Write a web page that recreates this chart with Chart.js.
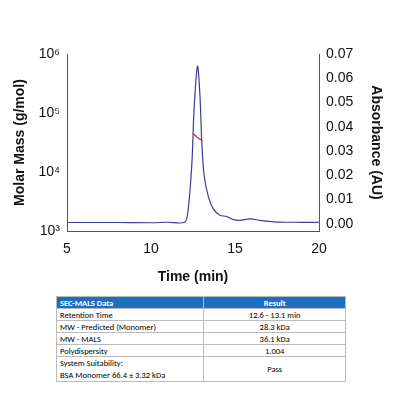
<!DOCTYPE html>
<html><head><meta charset="utf-8">
<script src="https://cdn.jsdelivr.net/npm/chart.js@4"></script>
<style>
body{margin:0;background:#fff;font-family:"Liberation Sans",Arial,sans-serif}
#wrap{position:absolute;left:0;top:0;width:400px;height:290px}
table{position:absolute;left:56px;top:296px;width:290px;border-collapse:collapse;font-family:Carlito,"Open Sans",sans-serif;font-size:8.5px}
td,th{border:1px solid #bbb;padding:0 3px;height:11px;line-height:10px}
th{background:#1f6fc0;color:#fff;text-align:left;font-weight:bold}
td:nth-child(2),th:nth-child(2){text-align:center;width:49%}
</style></head><body>
<div id="wrap"><canvas id="c"></canvas></div>
<table>
<tr><th>SEC-MALS Data</th><th>Result</th></tr>
<tr><td>Retention Time</td><td>12.6 - 13.1 min</td></tr>
<tr><td>MW - Predicted (Monomer)</td><td>28.3 kDa</td></tr>
<tr><td>MW - MALS</td><td>36.1 kDa</td></tr>
<tr><td>Polydispersity</td><td>1.004</td></tr>
<tr><td style="height:22px;line-height:12px">System Suitability:<br>BSA Monomer 66.4 ± 3.32 kDa</td><td>Pass</td></tr>
</table>
<script>
// absorbance trace (min, AU)
const absTime = [5, 8, 10, 11, 12, 12.2, 12.43, 12.57, 12.77, 12.92, 13.02, 13.16, 13.42, 13.72, 14.1, 14.5, 14.9, 15.3, 15.9, 16.5, 17.3, 18.5, 20];
const absVal  = [0.0005, 0.0005, 0.0004, 0.0006, 0.0006, 0.005, 0.0245, 0.048, 0.065, 0.052, 0.034, 0.020, 0.011, 0.006, 0.0035, 0.003, 0.0017, 0.0014, 0.002, 0.0014, 0.0008, 0.0006, 0.0006];
// molar mass across the peak (g/mol)
const massTime = [12.55, 12.7, 12.85, 13.05];
const massVal  = [44000, 40000, 37000, 34000];
const sup = {3:'10³',4:'10⁴',5:'10⁵',6:'10⁶'};

const pts = (xs, ys) => xs.map((x, i) => ({x: x, y: ys[i]}));
const tickFont = {family: 'Liberation Sans', size: 14};
const titleFont = {family: 'Liberation Sans', size: 14, weight: 'bold'};

new Chart(document.getElementById('c'), {
  type: 'scatter',
  data: {
    datasets: [
      {data: pts(absTime, absVal), yAxisID: 'yR', showLine: true, borderColor: '#3b3b98', borderWidth: 1.2, pointRadius: 0, tension: 0.3},
      {data: pts(massTime, massVal), yAxisID: 'yL', showLine: true, borderColor: '#9b3b30', borderWidth: 1.2, pointRadius: 0}
    ]
  },
  options: {
    responsive: true, maintainAspectRatio: false, animation: false,
    layout: {padding: {top: 54, left: 10, right: 14}},
    plugins: {legend: {display: false}, tooltip: {enabled: false}},
    scales: {
      x: {
        type: 'linear', min: 5, max: 20,
        grid: {display: false, drawTicks: true, tickLength: 4},
        border: {color: '#555'},
        ticks: {stepSize: 5, font: tickFont, color: '#111', padding: 6},
        title: {display: true, text: 'Time (min)', font: titleFont, color: '#111', padding: {top: 2}},
        afterFit: s => { s.height = 59; }
      },
      yL: {
        type: 'logarithmic', position: 'left', min: 1000, max: 1000000,
        grid: {display: false, tickLength: 4},
        border: {color: '#555'},
        afterBuildTicks: s => { s.ticks = [1e3, 1e4, 1e5, 1e6].map(v => ({value: v})); },
        ticks: {font: tickFont, color: '#111', callback: v => sup[Math.round(Math.log10(v))]},
        title: {display: true, text: 'Molar Mass (g/mol)', font: titleFont, color: '#111', padding: 2},
        afterFit: s => { s.width = 57; }
      },
      yR: {
        type: 'linear', position: 'right', min: -0.003, max: 0.07,
        grid: {display: false, tickLength: 4},
        border: {color: '#555'},
        afterBuildTicks: s => { s.ticks = [0,0.01,0.02,0.03,0.04,0.05,0.06,0.07].map(v => ({value: v})); },
        ticks: {font: tickFont, color: '#111', callback: v => v.toFixed(2)},
        title: {display: true, text: 'Absorbance (AU)', font: titleFont, color: '#111', padding: 2},
        afterFit: s => { s.width = 67; }
      }
    }
  }
});
</script>
</body></html>
